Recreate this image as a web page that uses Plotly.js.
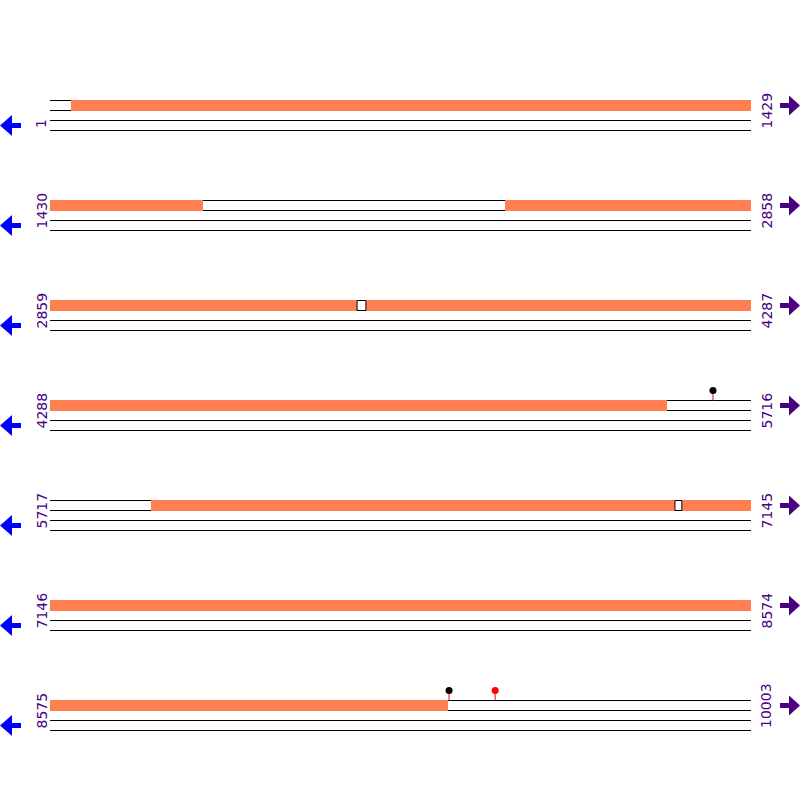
<!DOCTYPE html>
<html><head><meta charset="utf-8">
<script src="https://cdn.plot.ly/plotly-3.0.1.min.js"></script>
<style>html,body{margin:0;padding:0;background:#fff}#chart{width:800px;height:800px}</style>
</head><body><div id="chart"></div>
<script>
// ---- data ----
const seqLength = 10003;
const rowLength = 1429;
const rowStartLabels = ['1', '1430', '2859', '4288', '5717', '7146', '8575'];
const rowEndLabels = ['1429', '2858', '4287', '5716', '7145', '8574', '10003'];
const featureStarts = [44, 2357, 3503, 5923, 7005];
const featureEnds = [1741, 3484, 5545, 6990, 9385];
const gapStarts = [3485, 6991];
const gapEnds = [3502, 7004];
const sitePositions = [5639, 9388, 9482];
const siteColors = ['black', 'black', 'red'];

// ---- layout helpers ----
const LEFT = 50, RIGHT = 751, W = 800, H = 800;
const scale = (RIGHT - LEFT) / rowLength;
const xRange = [-LEFT / scale, (W - LEFT) / scale];
const nRows = rowStartLabels.length;
const rowStart = r => r * rowLength + 1;
const rowEnd = r => Math.min(rowStart(r) + rowLength - 1, seqLength);

function splitIntervals(starts, ends) {
  const out = {y: [], base: [], x: []};
  for (let i = 0; i < starts.length; i++) {
    for (let r = 0; r < nRows; r++) {
      const o1 = Math.max(starts[i], rowStart(r));
      const o2 = Math.min(ends[i], rowEnd(r));
      if (o1 <= o2) {
        out.y.push(r + 0.05);
        out.base.push(o1 - rowStart(r));
        out.x.push(o2 - o1 + 1);
      }
    }
  }
  return out;
}

const shapes = [];
// strand lines (below traces)
for (let r = 0; r < nRows; r++) {
  const len = rowEnd(r) - rowStart(r) + 1;
  [0, 0.1, 0.2, 0.3].forEach(d => {
    shapes.push({type: 'line', xref: 'x', yref: 'y', x0: 0, x1: len, y0: r + d, y1: r + d,
      line: {color: 'black', width: 1}, layer: 'below'});
  });
}

const traces = [];
const feat = splitIntervals(featureStarts, featureEnds);
traces.push({type: 'bar', orientation: 'h', y: feat.y, x: feat.x, base: feat.base, width: 0.11,
  marker: {color: '#FF7F50', line: {width: 0}}, hoverinfo: 'skip'});

const gaps = splitIntervals(gapStarts, gapEnds);
traces.push({type: 'bar', orientation: 'h', y: gaps.y, x: gaps.x, base: gaps.base, width: 0.1,
  marker: {color: 'white', line: {width: 1, color: 'black'}}, hoverinfo: 'skip'});

// sites
const sx = [], sy = [], stx = [], sty = [];
sitePositions.forEach(p => {
  const r = Math.floor((p - 1) / rowLength);
  const off = p - rowStart(r) + 0.5;
  sx.push(off); sy.push(r - 0.1);
  stx.push(off, off, null); sty.push(r - 0.1, r, null);
});
traces.push({type: 'scatter', mode: 'lines', x: stx, y: sty, line: {color: 'red', width: 1}, hoverinfo: 'skip'});
traces.push({type: 'scatter', mode: 'markers', x: sx, y: sy, marker: {color: siteColors, size: 7, line: {width: 0}}, hoverinfo: 'skip'});

// annotations & arrows
const purple = '#4B0082';
const annotations = [];
for (let r = 0; r < nRows; r++) {
  annotations.push({xref: 'paper', yref: 'y', x: 41 / W, y: r + 0.3, text: rowStartLabels[r], showarrow: false,
    textangle: -90, xanchor: 'center', yanchor: 'bottom', font: {family: 'DejaVu Sans', size: 14, color: purple}});
  annotations.push({xref: 'paper', yref: 'y', x: 766 / W, y: r + 0.3, text: rowEndLabels[r], showarrow: false,
    textangle: -90, xanchor: 'center', yanchor: 'bottom', font: {family: 'DejaVu Sans', size: 14, color: purple}});
  shapes.push({type: 'path', xref: 'paper', yref: 'y', xsizemode: 'pixel', ysizemode: 'pixel', xanchor: 0, yanchor: r + 0.25,
    path: 'M0,0 L12,10.5 L12,2.5 L21,2.5 L21,-2.5 L12,-2.5 L12,-10.5 Z', fillcolor: '#0000FF', line: {width: 0}});
  shapes.push({type: 'path', xref: 'paper', yref: 'y', xsizemode: 'pixel', ysizemode: 'pixel', xanchor: 1, yanchor: r + 0.05,
    path: 'M0,0 L-11,10 L-11,2.5 L-20,2.5 L-20,-2.5 L-11,-2.5 L-11,-10 Z', fillcolor: purple, line: {width: 0}});
}

const layout = {
  width: W, height: H, margin: {l: 0, r: 0, t: 0, b: 0, pad: 0},
  paper_bgcolor: 'white', plot_bgcolor: 'white', showlegend: false, hovermode: false,
  barmode: 'overlay', bargap: 0,
  xaxis: {range: xRange, visible: false, showgrid: false, zeroline: false, fixedrange: true},
  yaxis: {range: [nRows - 0.005, -1.005], visible: false, showgrid: false, zeroline: false, fixedrange: true},
  annotations: annotations, shapes: shapes
};

Plotly.newPlot('chart', traces, layout, {staticPlot: true, displayModeBar: false});
</script>
</body></html>
